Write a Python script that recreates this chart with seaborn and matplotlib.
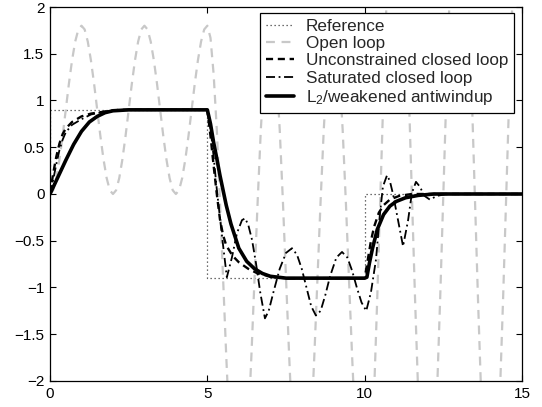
import numpy as np
import matplotlib
matplotlib.use("Agg")
import matplotlib.pyplot as plt
import seaborn as sns

# ---------------- data ----------------
ref_t = [0, 0, 5, 5, 10, 10, 15]
ref_y = [0, 0.9, 0.9, -0.9, -0.9, 0, 0]

open_t = np.linspace(0, 15, 151)
open_y = [
    0.00, 0.04, 0.17, 0.37, 0.62, 0.90, 1.18, 1.43, 1.63, 1.76, 1.80,
    1.76, 1.63, 1.43, 1.18, 0.90, 0.62, 0.37, 0.17, 0.04, 0.00,
    0.04, 0.17, 0.37, 0.62, 0.90, 1.18, 1.43, 1.63, 1.76, 1.80,
    1.76, 1.63, 1.43, 1.18, 0.90, 0.62, 0.37, 0.17, 0.04, 0.00,
    0.04, 0.17, 0.37, 0.62, 0.90, 1.18, 1.43, 1.63, 1.76, 1.80,
    1.67, 1.28, 0.69, -0.07, -0.90, -1.73, -2.49, -3.08, -3.47, -3.60,
    -3.47, -3.08, -2.49, -1.73, -0.90, -0.07, 0.69, 1.28, 1.67, 1.80,
    1.67, 1.28, 0.69, -0.07, -0.90, -1.73, -2.49, -3.08, -3.47, -3.60,
    -3.47, -3.08, -2.49, -1.73, -0.90, -0.07, 0.69, 1.28, 1.67, 1.80,
    1.67, 1.28, 0.69, -0.07, -0.90, -1.73, -2.49, -3.08, -3.47, -3.60,
    -3.42, -2.91, -2.12, -1.11, 0.00, 1.11, 2.12, 2.91, 3.42, 3.60,
    3.42, 2.91, 2.12, 1.11, 0.00, -1.11, -2.12, -2.91, -3.42, -3.60,
    -3.42, -2.91, -2.12, -1.11, 0.00, 1.11, 2.12, 2.91, 3.42, 3.60,
    3.42, 2.91, 2.12, 1.11, 0.00, -1.11, -2.12, -2.91, -3.42, -3.60,
    -3.42, -2.91, -2.12, -1.11, 0.00, 1.11, 2.12, 2.91, 3.42, 3.60,
]

unc_t = [0, 0.1, 0.2, 0.3, 0.4, 0.5, 0.7, 1.0, 1.3, 1.7, 2.2, 5.0,
         5.1, 5.2, 5.3, 5.4, 5.5, 5.6, 5.8, 6.0, 6.3, 6.6, 7.0, 7.5, 10.0,
         10.1, 10.2, 10.3, 10.45, 10.6, 10.8, 11.1, 11.5, 15.0]
unc_y = [0, 0.22, 0.40, 0.54, 0.64, 0.70, 0.77, 0.83, 0.86, 0.88, 0.90, 0.90,
         0.62, 0.30, 0.00, -0.27, -0.44, -0.55, -0.66, -0.73, -0.80, -0.85, -0.88, -0.90, -0.90,
         -0.70, -0.50, -0.35, -0.20, -0.12, -0.06, -0.02, 0.00, 0.00]

sat_t = [0, 0.1, 0.2, 0.3, 0.4, 0.5, 0.7, 1.0, 1.3, 1.7, 2.2, 5.0,
         5.1, 5.2, 5.3, 5.4, 5.5, 5.62, 5.78, 5.94, 6.1, 6.2, 6.3, 6.42, 6.55, 6.68, 6.83,
         6.95, 7.1, 7.3, 7.5, 7.69, 7.85, 8.0, 8.15, 8.3, 8.45, 8.6, 8.75, 8.9, 9.1, 9.28,
         9.45, 9.6, 9.75, 9.9, 10.05, 10.2, 10.36, 10.49, 10.58, 10.71, 10.8, 10.9, 11.06,
         11.22, 11.38, 11.5, 11.63, 11.75, 11.9, 12.07, 12.3, 12.6, 15.0]
sat_y = [0, 0.15, 0.32, 0.47, 0.58, 0.66, 0.74, 0.80, 0.85, 0.88, 0.90, 0.90,
         0.70, 0.40, 0.05, -0.25, -0.55, -0.89, -0.68, -0.42, -0.28, -0.26, -0.33, -0.49, -0.75, -1.05, -1.33,
         -1.25, -1.05, -0.80, -0.63, -0.58, -0.65, -0.80, -1.00, -1.20, -1.30, -1.25, -1.08, -0.88, -0.68, -0.62,
         -0.68, -0.82, -1.00, -1.16, -1.25, -1.05, -0.70, -0.20, 0.08, 0.20, 0.14, 0.00, -0.28,
         -0.56, -0.28, 0.01, 0.13, 0.08, -0.02, -0.06, -0.02, 0.00, 0.00]

l2_t = [0, 0.25, 0.5, 0.75, 1.0, 1.25, 1.5, 1.75, 2.0, 2.5, 5.0,
        5.1, 5.2, 5.3, 5.4, 5.5, 5.6, 5.75, 6.0, 6.25, 6.5, 6.75, 7.0, 7.5, 10.0,
        10.07, 10.15, 10.25, 10.4, 10.6, 10.8, 11.0, 11.3, 11.7, 12.2, 15.0]
l2_y = [0, 0.18, 0.36, 0.53, 0.67, 0.77, 0.83, 0.87, 0.89, 0.90, 0.90,
        0.75, 0.55, 0.38, 0.20, 0.04, -0.12, -0.32, -0.58, -0.72, -0.80, -0.85, -0.88, -0.90, -0.90,
        -0.89, -0.74, -0.58, -0.38, -0.22, -0.13, -0.08, -0.04, -0.015, 0.00, 0.00]

labels = ["Reference", "Open loop", "Unconstrained closed loop",
          "Saturated closed loop", "L$_2$/weakened antiwindup"]
x_ticks = [0, 5, 10, 15]
y_ticks = [-2, -1.5, -1, -0.5, 0, 0.5, 1, 1.5, 2]

# ---------------- styling ----------------
sns.set_style("white")
plt.rcParams["font.family"] = ["Liberation Sans", "DejaVu Sans"]
plt.rcParams["mathtext.default"] = "regular"

fig = plt.figure(figsize=(5.42, 4.07), dpi=100)
ax = fig.add_axes([0.0923, 0.0639, 0.8708, 0.9189])

sns.lineplot(x=ref_t, y=ref_y, ax=ax, color="0.25", lw=0.9, sort=False,
             estimator=None, label=labels[0])
ax.lines[-1].set_dashes((1, 2.2))
sns.lineplot(x=open_t, y=open_y, ax=ax, color="#c8c8c8", lw=1.6, sort=False,
             estimator=None, label=labels[1])
ax.lines[-1].set_dashes((4, 3))
sns.lineplot(x=unc_t, y=unc_y, ax=ax, color="black", lw=1.7, sort=False,
             estimator=None, label=labels[2])
ax.lines[-1].set_dashes((3, 2))
sns.lineplot(x=sat_t, y=sat_y, ax=ax, color="black", lw=1.3, sort=False,
             estimator=None, label=labels[3])
ax.lines[-1].set_dashes((5, 2, 1, 2))
sns.lineplot(x=l2_t, y=l2_y, ax=ax, color="black", lw=2.6, sort=False,
             estimator=None, label=labels[4])

ax.set_xlim(0, 15)
ax.set_ylim(-2, 2)
ax.set_xticks(x_ticks)
ax.set_xticklabels([str(v) for v in x_ticks])
ax.set_yticks(y_ticks)
ax.set_yticklabels(["\u22122", "\u22121.5", "\u22121", "\u22120.5", "0", "0.5", "1", "1.5", "2"])
ax.set_xlabel("")
ax.set_ylabel("")
ax.tick_params(direction="in", length=4, width=0.8, labelsize=11,
               top=True, right=True, bottom=True, left=True, colors="black",
               pad=4)
for s in ax.spines.values():
    s.set_visible(True)
    s.set_color("black")
    s.set_linewidth(0.9)

handles = ax.lines[:5]
leg = ax.legend(handles, labels, loc="upper right",
                bbox_to_anchor=(1 - 8 / 472, 1 - 6 / 374), borderaxespad=0,
                fancybox=False, framealpha=1, edgecolor="black", fontsize=12.3,
                handlelength=1.6, labelspacing=0.13, borderpad=0.35,
                handletextpad=0.7)
leg.get_frame().set_linewidth(0.9)

fig.savefig("out.png", dpi=100)
